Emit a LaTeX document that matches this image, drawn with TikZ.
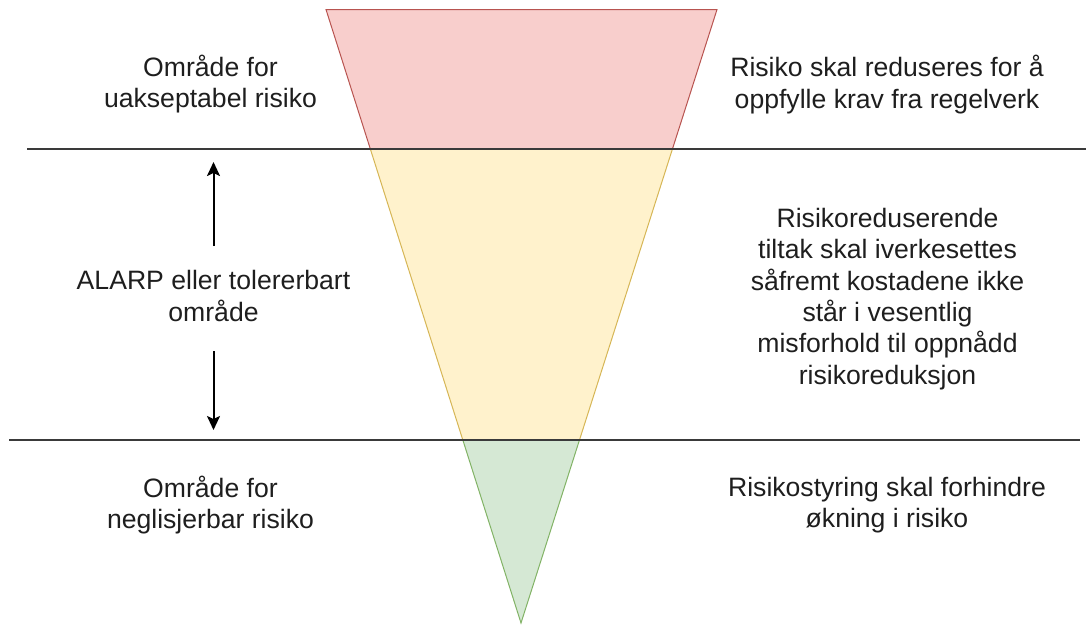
\documentclass[tikz,border=0pt]{standalone}
\usepackage{fontspec}
\setmainfont{Liberation Sans}
\usetikzlibrary{calc,arrows.meta}

\definecolor{redfill}{HTML}{F8CECC}
\definecolor{redline}{HTML}{B85450}
\definecolor{yelfill}{HTML}{FFF2CC}
\definecolor{yelline}{HTML}{D6B656}
\definecolor{grnfill}{HTML}{D5E8D4}
\definecolor{grnline}{HTML}{82B366}
\definecolor{txt}{HTML}{1E1E1E}
\definecolor{rule}{HTML}{3A3A3A}

\tikzset{
  zone/.style={line width=1pt, line join=miter},
  label/.style={inner sep=0pt, align=center, text=txt,
    font=\fontsize{26.6}{31.3}\selectfont},
  divider/.style={draw=rule, line width=1.3pt},
  updown/.style={line width=2pt, black,
    -{Stealth[length=14pt,width=13pt,inset=3pt]}}
}

\begin{document}
\begin{tikzpicture}[x=1pt,y=-1pt]
  \useasboundingbox (0,0) rectangle (1086,625);

  % funnel outline
  \coordinate (tl) at (326,9.5);
  \coordinate (tr) at (717,9.5);
  \coordinate (apex) at (521,623);
  % where the funnel edges meet the two dividers
  \coordinate (l1) at ($(tl)!0.2274!(apex)$);
  \coordinate (r1) at ($(tr)!0.2274!(apex)$);
  \coordinate (l2) at ($(tl)!0.7017!(apex)$);
  \coordinate (r2) at ($(tr)!0.7017!(apex)$);

  % three risk zones
  \filldraw[zone, fill=redfill, draw=redline] (tl) -- (tr) -- (r1) -- (l1) -- cycle;
  \filldraw[zone, fill=yelfill, draw=yelline] (l1) -- (r1) -- (r2) -- (l2) -- cycle;
  \filldraw[zone, fill=grnfill, draw=grnline] (l2) -- (r2) -- (apex) -- cycle;

  % dividers between the zones
  \coordinate (d1a) at (27,149);
  \coordinate (d1b) at (1086,149);
  \coordinate (d2a) at (9,440);
  \coordinate (d2b) at (1080,440);
  \draw[divider] (d1a) -- (d1b);
  \draw[divider] (d2a) -- (d2b);

  % left column
  \node[label] (unacc) at (210.5,84) {Område for\\uakseptabel risiko};
  \node[label] (alarp) at (213.5,296) {ALARP eller tolererbart\\område};
  \node[label] (negl) at (210.5,505) {Område for\\neglisjerbar risiko};

  % right column
  \node[label] (reg) at (887,84.5) {Risiko skal reduseres for å\\oppfylle krav fra regelverk};
  \node[label] (tiltak) at (887.5,299) {Risikoreduserende\\tiltak skal iverkesettes\\såfremt kostadene ikke\\står i vesentlig\\misforhold til oppnådd\\risikoreduksjon};
  \node[label] (styr) at (887,505) {Risikostyring skal forhindre\\økning i risiko};

  % ALARP span arrows
  \coordinate (upfrom) at (213.5,246);
  \coordinate (upto) at (213.5,162);
  \coordinate (dnfrom) at (213.5,351);
  \coordinate (dnto) at (213.5,430);
  \draw[updown] (upfrom) -- (upto);
  \draw[updown] (dnfrom) -- (dnto);
\end{tikzpicture}
\end{document}
